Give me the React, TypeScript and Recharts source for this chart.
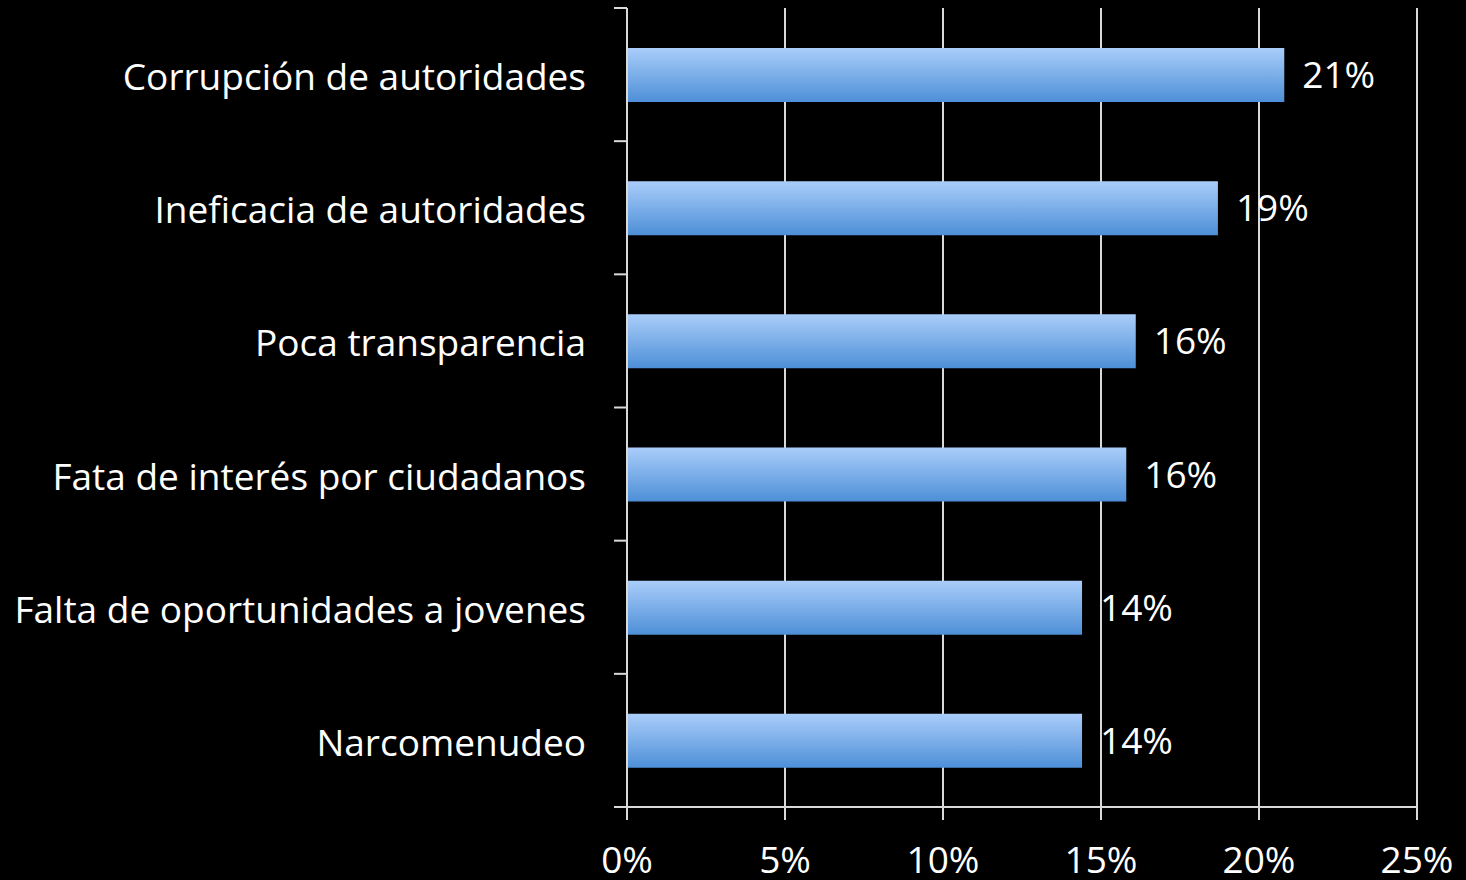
import {
    BarChart,
    Bar,
    XAxis,
    YAxis,
    CartesianGrid,
    LabelList,
} from "recharts";

const CATEGORIES = [
    "Corrupción de autoridades",
    "Ineficacia de autoridades",
    "Poca transparencia",
    "Fata de interés por ciudadanos",
    "Falta de oportunidades a jovenes",
    "Narcomenudeo",
];

const VALUES = [20.8, 18.7, 16.1, 15.8, 14.4, 14.4];

const X_TICKS = [0, 5, 10, 15, 20, 25];

const data = CATEGORIES.map((name, i) => ({ name, value: VALUES[i] }));

const FONT = "'Open Sans', Lato, sans-serif";
const FONT_SIZE = 37;
const AXIS_COLOR = "#d9d9d9";
const TICK_SIZE = 13;
const TICK_MARGIN = 28;

// category tick: label plus tick marks on the band edges (not the centre)
function CategoryTick(props: any) {
    const { x, y, payload, index, visibleTicksCount } = props;
    const half = payload.offset || 66.6;
    const lx = x + TICK_MARGIN;
    return (
        <g>
            <line x1={lx} x2={lx + TICK_SIZE} y1={y - half} y2={y - half} stroke={AXIS_COLOR} strokeWidth={2} />
            {index === visibleTicksCount - 1 && (
                <line x1={lx} x2={lx + TICK_SIZE} y1={y + half} y2={y + half} stroke={AXIS_COLOR} strokeWidth={2} />
            )}
            <text x={x} y={y} dy="0.42em" textAnchor="end" fill="#fff" fontSize={FONT_SIZE} fontFamily={FONT}>
                {payload.value}
            </text>
        </g>
    );
}

export default function App() {
    return (
        <div style={{ position: "fixed", top: 0, left: 0, width: 1466, height: 880, background: "#000" }}>
            <BarChart
                width={1466}
                height={880}
                data={data}
                layout="vertical"
                margin={{ top: 8, right: 49, bottom: 0, left: 0 }}
            >
                <defs>
                    <linearGradient id="barFill" x1="0" y1="0" x2="0" y2="1">
                        <stop offset="0%" stopColor="#aacdfa" />
                        <stop offset="100%" stopColor="#4d8fd7" />
                    </linearGradient>
                </defs>
                <CartesianGrid horizontal={false} stroke={AXIS_COLOR} strokeWidth={2} />
                <XAxis
                    type="number"
                    domain={[0, 25]}
                    ticks={X_TICKS}
                    tickFormatter={(v) => `${v}%`}
                    height={73}
                    tickSize={TICK_SIZE}
                    tickMargin={27}
                    stroke={AXIS_COLOR}
                    strokeWidth={2}
                    tick={{ fill: "#fff", fontSize: FONT_SIZE, fontFamily: FONT }}
                />
                <YAxis
                    type="category"
                    dataKey="name"
                    width={627}
                    tickSize={TICK_SIZE}
                    tickMargin={TICK_MARGIN}
                    tickLine={false}
                    stroke={AXIS_COLOR}
                    strokeWidth={2}
                    interval={0}
                    tick={<CategoryTick />}
                />
                <Bar dataKey="value" fill="url(#barFill)" barSize={54} isAnimationActive={false}>
                    <LabelList
                        dataKey="value"
                        position="right"
                        offset={18}
                        fill="#fff"
                        fontSize={FONT_SIZE}
                        fontFamily={FONT}
                        formatter={(v: any) => `${Math.round(Number(v))}%`}
                    />
                </Bar>
            </BarChart>
        </div>
    );
}
